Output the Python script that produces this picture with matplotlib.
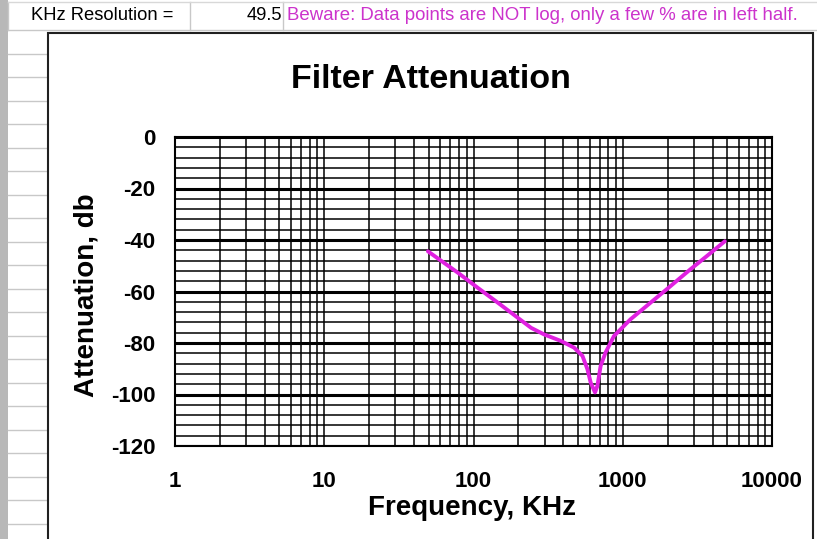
import numpy as np
import matplotlib.pyplot as plt
from matplotlib.lines import Line2D
from matplotlib.patches import Rectangle

# values
freq_khz = [49.5, 79, 107, 146, 198, 243, 298, 385, 472, 537, 580, 610, 652,
            676, 711, 767, 873, 1127, 1531, 2080, 2824, 3648, 4830]
atten_db = [-44.4, -52.8, -58.6, -64.4, -70.2, -74.1, -76.7, -79.2, -81.8, -85.0,
            -90.2, -95.4, -99.2, -96.7, -88.9, -83.7, -77.3, -70.8, -64.4, -58.0,
            -51.5, -46.3, -40.5]
x_ticks = [1, 10, 100, 1000, 10000]
y_ticks = [0, -20, -40, -60, -80, -100, -120]
resolution = "49.5"
note = "Beware: Data points are NOT log, only a few % are in left half."

plt.rcParams['font.family'] = ['Liberation Sans', 'DejaVu Sans']

W, H = 817, 539
fig = plt.figure(figsize=(W / 100, H / 100), dpi=100)
fig.patch.set_facecolor('white')


def px(x, y):
    return x / W, 1 - y / H


# spreadsheet behind the chart
fig.add_artist(Rectangle((0, 0), 8 / W, 1, transform=fig.transFigure,
                         facecolor='#b8b8b8', edgecolor='none', zorder=0))
for k in range(22):
    yy = 30 + 23.5 * k
    if yy > H:
        break
    x1 = W if k == 0 else 48
    fig.add_artist(Line2D([8 / W, x1 / W], [1 - yy / H] * 2, transform=fig.transFigure,
                          color='#c8c8c8', lw=1, zorder=0))
for xx in [8, 190, 283]:
    fig.add_artist(Line2D([xx / W] * 2, [1 - 2 / H, 1 - 30 / H], transform=fig.transFigure,
                          color='#c8c8c8', lw=1, zorder=0))
fig.add_artist(Line2D([8 / W, W / W], [1 - 2 / H] * 2, transform=fig.transFigure,
                      color='#d8d8d8', lw=1, zorder=0))
fig.text(*px(102, 16), "KHz Resolution =", ha='center', va='center', fontsize=13.2)
fig.text(*px(282, 16), resolution, ha='right', va='center', fontsize=13.2)
fig.text(*px(287, 16), note, ha='left', va='center', fontsize=13.4, color='#cc33cc')

# chart area
fig.add_artist(Rectangle(px(48, 560), (813 - 48) / W, (560 - 33) / H,
                         transform=fig.transFigure, facecolor='white',
                         edgecolor='#202020', lw=1.5, zorder=1))

ax = fig.add_axes([175 / W, 1 - 446 / H, (772 - 175) / W, (446 - 137) / H], zorder=2)
ax.set_xscale('log')
ax.set_xlim(1, 10000)
ax.set_ylim(-120, 0)
ax.set_xticks(x_ticks)
ax.set_xticklabels([str(t) for t in x_ticks])
ax.set_xticks([m * 10 ** d for d in range(4) for m in range(2, 10)], minor=True)
ax.xaxis.set_minor_formatter(plt.NullFormatter())
ax.set_yticks(y_ticks)
ax.set_yticklabels([str(t) for t in y_ticks])
ax.set_yticks(np.arange(-120, 1, 4), minor=True)

ax.grid(True, which='major', axis='x', color='black', lw=1.1)
ax.grid(True, which='minor', axis='x', color='black', lw=1.1)
ax.grid(True, which='major', axis='y', color='black', lw=2.2)
ax.grid(True, which='minor', axis='y', color='black', lw=1.1)
ax.set_axisbelow(True)
for s in ax.spines.values():
    s.set_linewidth(1.5)
    s.set_color('black')
ax.tick_params(which='both', length=0)
ax.tick_params(axis='x', pad=18, labelsize=16)
ax.tick_params(axis='y', pad=14, labelsize=16)
for lab in ax.get_xticklabels() + ax.get_yticklabels():
    lab.set_fontweight('bold')

ax.plot(freq_khz, atten_db, color='#e020e0', lw=2.8, zorder=3,
        solid_joinstyle='round', solid_capstyle='round')

fig.text(*px(431, 80), "Filter Attenuation", ha='center', va='center',
         fontsize=24.5, fontweight='bold')
fig.text(*px(472, 508), "Frequency, KHz", ha='center', va='center',
         fontsize=20, fontweight='bold')
fig.text(*px(86, 295), "Attenuation, db", ha='center', va='center',
         fontsize=20, fontweight='bold', rotation=90)

fig.savefig("out.png", dpi=100)
